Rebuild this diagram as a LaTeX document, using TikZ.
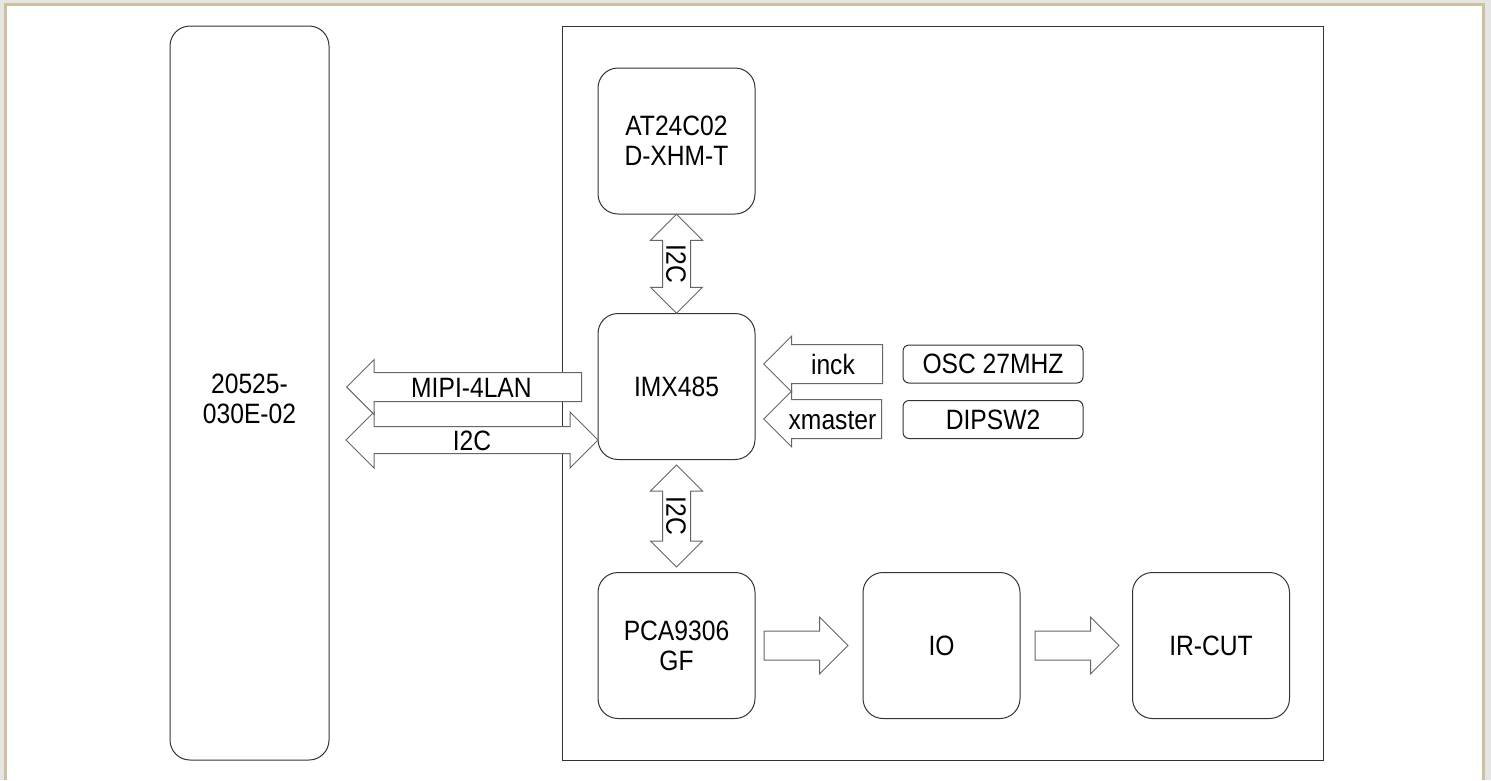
\documentclass[tikz,border=0pt]{standalone}
\usepackage{fontspec}
\setmainfont{Liberation Sans}[FakeStretch=0.88]
\usetikzlibrary{calc, positioning, shapes.arrows}
\definecolor{framegray}{RGB}{229,229,229}
\definecolor{framebeige}{RGB}{207,192,160}
\definecolor{edgegray}{RGB}{51,51,51}
\definecolor{arrowgray}{RGB}{102,102,102}

\begin{document}
\begin{tikzpicture}[x=1pt, y=-1pt, font=\fontsize{28}{30}\selectfont]
  % Styles
  \tikzset{block/.style={draw=edgegray, line width=1pt, rounded corners=20pt, minimum width=157pt, minimum height=146pt, align=center, inner sep=0pt}}
  \tikzset{tag/.style={draw=edgegray, line width=1pt, rounded corners=6pt, minimum width=180pt, minimum height=38pt, inner sep=0pt}}
  \tikzset{flow/.style={draw=arrowgray, line width=1pt, fill=white, single arrow, inner xsep=1pt, inner ysep=0pt}}
  \tikzset{bus/.style={draw=arrowgray, line width=1pt, fill=white, double arrow, inner xsep=1pt, inner ysep=0pt}}

  % Sheet frame
  \fill[framegray] (0,0) rectangle (1491,780);
  \fill[framebeige] (4,3) rectangle (1485,780);
  \fill[white] (7,6) rectangle (1482,780);
  \useasboundingbox (0,0) rectangle (1491,780);

  % Connector on the left, board on the right
  \node[block, minimum width=159pt, minimum height=734pt] (conn) at (249.5,393) {\rule{0pt}{30.5pt}20525-\\030E-02};
  \node[draw=edgegray, line width=1pt, minimum width=761pt, minimum height=734pt] (board) at (942.5,393) {};

  % Chips on the board
  \node[block] (eeprom) at (676.5,141) {AT24C02\\D-XHM-T};
  \node[block] (sensor) at (676.5,386.5) {IMX485};
  \node[block] (level) at (676.5,645.5) {PCA9306\\GF};
  \node[block] (io) at (941.5,645.5) {IO};
  \node[block] (ircut) at (1211,645.5) {IR-CUT};
  \node[tag] (osc) at (993,364) {OSC 27MHZ};
  \node[tag] (dip) at (993,419.5) {DIPSW2};

  % I2C buses
  \node[bus, rotate=-90, text height=23.7pt, text depth=3.3pt, minimum height=99pt, minimum width=51pt, double arrow head extend=12pt] (i2ctop) at ($(eeprom.south)!0.5!(sensor.north)$) {I2C};
  \node[bus, rotate=-90, text height=23.7pt, text depth=3.3pt, minimum height=102pt, minimum width=51pt, double arrow head extend=12pt] (i2cbot) at ($(sensor.south)!0.5!(level.north)$) {I2C};
  \node[bus, text height=23.2pt, text depth=2.8pt, minimum height=252pt, minimum width=55pt, double arrow head extend=14.5pt] (i2cside) at (472,440) {I2C};

  % Video out, clock and mode in
  \node[flow, shape border rotate=180, text height=24.2pt, text depth=3.8pt, minimum height=235pt, minimum width=54pt, single arrow head extend=13pt, anchor=tip] (mipi) at (346,387) {MIPI-4LAN};
  \node[flow, shape border rotate=180, text height=29.2pt, text depth=8.8pt, minimum height=119pt, minimum width=55pt, single arrow head extend=8.5pt, anchor=tip] (inck) at (763,364) {inck};
  \node[flow, shape border rotate=180, text height=29.2pt, text depth=8.8pt, minimum height=118pt, minimum width=55pt, single arrow head extend=8.5pt, anchor=tip] (xmaster) at (763,419) {xmaster};

  % Control path
  \node[flow, inner ysep=14pt, minimum height=84pt, minimum width=56pt, single arrow head extend=14pt, anchor=tail] (toio) at ($(level.east)+(8,0)$) {};
  \node[flow, inner ysep=14pt, minimum height=84pt, minimum width=56pt, single arrow head extend=14pt, anchor=tail] (toircut) at ($(io.east)+(14,0)$) {};
\end{tikzpicture}
\end{document}
